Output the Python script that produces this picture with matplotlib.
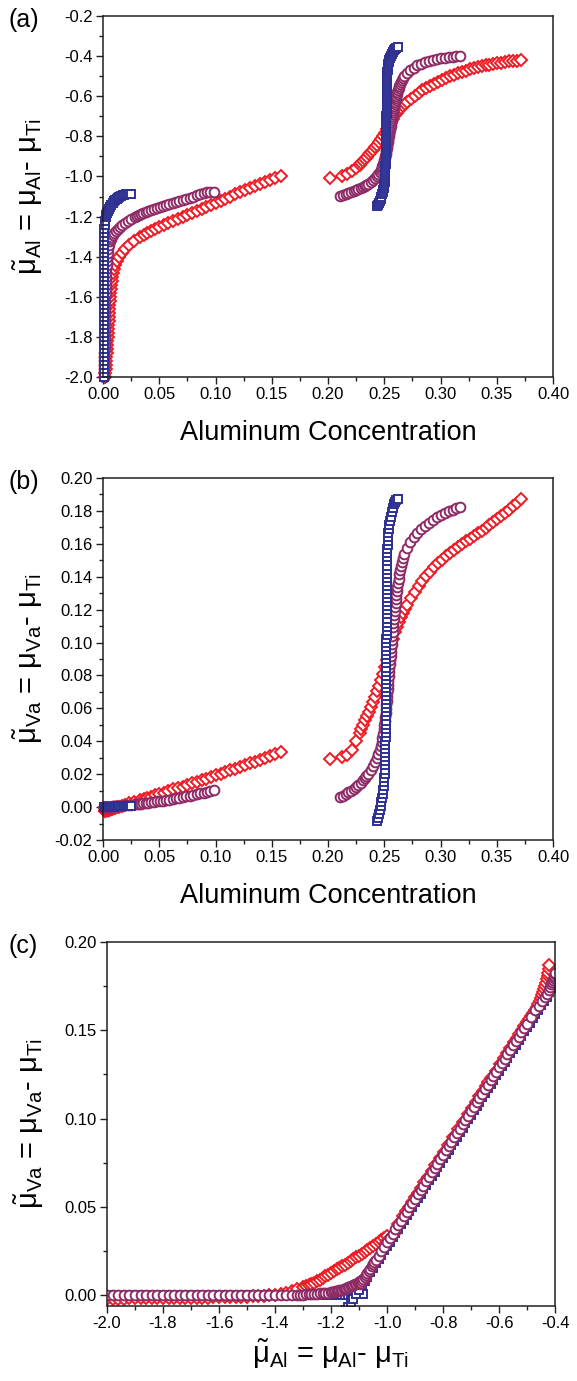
import matplotlib
matplotlib.use("Agg")
import matplotlib.pyplot as plt
from matplotlib.ticker import MultipleLocator, FormatStrFormatter

plt.rcParams['font.family'] = ['Liberation Sans', 'DejaVu Sans']
plt.rcParams['mathtext.fontset'] = 'custom'
plt.rcParams['mathtext.rm'] = 'Liberation Sans'
plt.rcParams['mathtext.it'] = 'Liberation Sans'
plt.rcParams['mathtext.bf'] = 'Liberation Sans:bold'
plt.rcParams['axes.unicode_minus'] = False

# ---- red diamonds, dilute branch ----
red_lo_x = [0.0015, 0.0019, 0.0023, 0.0026, 0.0029, 0.0031, 0.0033, 0.0035, 0.0037, 0.0039,
            0.0041, 0.0043, 0.0045, 0.0047, 0.0049, 0.0051, 0.0053, 0.0055, 0.0057, 0.0060,
            0.0063, 0.0066, 0.0069, 0.0073, 0.0077, 0.0082, 0.0088, 0.0096, 0.0107, 0.0122,
            0.0141, 0.0165, 0.0195, 0.0232, 0.0277,
            0.0330, 0.0360, 0.0392, 0.0426, 0.0462, 0.0500, 0.0540, 0.0580, 0.0625, 0.0667,
            0.0709, 0.0751, 0.0793, 0.0835, 0.0877, 0.0919, 0.0961, 0.1003, 0.1045, 0.1088,
            0.1131, 0.1174, 0.1217, 0.1260, 0.1303, 0.1348, 0.1393, 0.1439, 0.1485, 0.1532,
            0.1580]
red_lo_mual = [-2.00, -1.98, -1.96, -1.94, -1.92, -1.90, -1.88, -1.86, -1.84, -1.82,
               -1.80, -1.78, -1.76, -1.74, -1.72, -1.70, -1.68, -1.66, -1.64, -1.62,
               -1.60, -1.58, -1.56, -1.54, -1.52, -1.50, -1.48, -1.46, -1.44, -1.42,
               -1.40, -1.38, -1.36, -1.34, -1.32,
               -1.30, -1.29, -1.28, -1.27, -1.26, -1.25, -1.24, -1.23, -1.22, -1.21,
               -1.20, -1.19, -1.18, -1.17, -1.16, -1.15, -1.14, -1.13, -1.12, -1.11,
               -1.10, -1.09, -1.08, -1.07, -1.06, -1.05, -1.04, -1.03, -1.02, -1.01,
               -1.00]
red_lo_muva = [-0.0022, -0.0021, -0.0020, -0.0020, -0.0019, -0.0019, -0.0018, -0.0018, -0.0018, -0.0017,
               -0.0017, -0.0016, -0.0016, -0.0016, -0.0015, -0.0015, -0.0014, -0.0014, -0.0014, -0.0013,
               -0.0012, -0.0012, -0.0011, -0.0010, -0.0010, -0.0009, -0.0007, -0.0006, -0.0004, -0.0001,
               0.0003, 0.0008, 0.0014, 0.0022, 0.0032,
               0.0043, 0.0049, 0.0056, 0.0063, 0.0071, 0.0079, 0.0088, 0.0097, 0.0107, 0.0116,
               0.0125, 0.0135, 0.0145, 0.0154, 0.0164, 0.0173, 0.0183, 0.0193, 0.0202, 0.0213,
               0.0223, 0.0233, 0.0244, 0.0254, 0.0265, 0.0276, 0.0287, 0.0298, 0.0310, 0.0321,
               0.0333]

# ---- red diamonds, ordered branch ----
red_hi_x = [0.2016, 0.2126, 0.2170, 0.2210, 0.2245,
            0.22800, 0.22975, 0.23150, 0.23325, 0.23500, 0.23675, 0.23850, 0.24025, 0.24200, 0.24375,
            0.24550, 0.24725, 0.24900, 0.25075, 0.25250, 0.25425, 0.25600, 0.25775, 0.25950, 0.26125,
            0.26300, 0.26475, 0.26650, 0.26825, 0.27000,
            0.2735, 0.2770, 0.2805, 0.2840, 0.2875, 0.2910, 0.2945, 0.2980, 0.3015, 0.3050,
            0.3085, 0.3120, 0.3155, 0.3190, 0.3225, 0.3260, 0.3295, 0.3330, 0.3365, 0.3400,
            0.3435, 0.3470, 0.3505, 0.3540, 0.3575, 0.3610, 0.3645, 0.3680, 0.3715]
red_hi_mual = [-1.008, -1.000, -0.988, -0.975, -0.960,
               -0.943, -0.933, -0.922, -0.912, -0.901, -0.890, -0.879, -0.867, -0.854, -0.841,
               -0.827, -0.812, -0.797, -0.781, -0.764, -0.746, -0.728, -0.712, -0.696, -0.683,
               -0.670, -0.658, -0.648, -0.638, -0.629,
               -0.612, -0.597, -0.583, -0.571, -0.559, -0.547, -0.537, -0.527, -0.518, -0.509,
               -0.501, -0.493, -0.486, -0.479, -0.473, -0.466, -0.460, -0.454, -0.449, -0.446,
               -0.442, -0.439, -0.435, -0.432, -0.429, -0.426, -0.424, -0.422, -0.420]
red_hi_muva = [0.0290, 0.0305, 0.0318, 0.0345, 0.0400,
               0.0450, 0.0475, 0.0500, 0.0527, 0.0553, 0.0580, 0.0608, 0.0638, 0.0669, 0.0703,
               0.0738, 0.0774, 0.0811, 0.0852, 0.0893, 0.0938, 0.0982, 0.1024, 0.1062, 0.1094,
               0.1127, 0.1155, 0.1182, 0.1206, 0.1229,
               0.1272, 0.1309, 0.1342, 0.1373, 0.1402, 0.1431, 0.1457, 0.1481, 0.1504, 0.1526,
               0.1546, 0.1565, 0.1583, 0.1600, 0.1616, 0.1632, 0.1648, 0.1663, 0.1680, 0.1698,
               0.1716, 0.1734, 0.1752, 0.1770, 0.1788, 0.1807, 0.1827, 0.1848, 0.1872]

# ---- purple circles, dilute branch ----
pur_lo_x = [0.0010, 0.0011, 0.0011, 0.0012, 0.0012, 0.0013, 0.0013, 0.0014, 0.0014, 0.0015,
            0.0016, 0.0016, 0.0017, 0.0017, 0.0018, 0.0019, 0.0019, 0.0020, 0.0021, 0.0021,
            0.0022, 0.0023, 0.0024, 0.0025, 0.0026, 0.0027, 0.0028, 0.0030, 0.0032, 0.0034,
            0.0037, 0.0041, 0.0046, 0.0052, 0.0061,
            0.0067, 0.0075, 0.0085, 0.0097, 0.0112, 0.0129, 0.0148, 0.0169, 0.0192, 0.0218,
            0.0247, 0.0280,
            0.0298, 0.0317, 0.0337, 0.0358, 0.0380, 0.0403, 0.0427, 0.0452, 0.0478, 0.0505,
            0.0532, 0.0560, 0.0589, 0.0618, 0.0648, 0.0678, 0.0708, 0.0739, 0.0770, 0.0801,
            0.0832, 0.0863, 0.0894, 0.0925, 0.0952, 0.0983]
pur_lo_mual = [-2.00, -1.98, -1.96, -1.94, -1.92, -1.90, -1.88, -1.86, -1.84, -1.82,
               -1.80, -1.78, -1.76, -1.74, -1.72, -1.70, -1.68, -1.66, -1.64, -1.62,
               -1.60, -1.58, -1.56, -1.54, -1.52, -1.50, -1.48, -1.46, -1.44, -1.42,
               -1.40, -1.38, -1.36, -1.34, -1.32,
               -1.31, -1.30, -1.29, -1.28, -1.27, -1.26, -1.25, -1.24, -1.23, -1.22,
               -1.21, -1.20,
               -1.195, -1.190, -1.185, -1.180, -1.175, -1.170, -1.165, -1.160, -1.155, -1.150,
               -1.145, -1.140, -1.135, -1.130, -1.125, -1.120, -1.115, -1.110, -1.105, -1.100,
               -1.095, -1.090, -1.085, -1.080, -1.078, -1.076]
pur_lo_muva = [0.0000, 0.0000, 0.0000, 0.0000, 0.0000, 0.0001, 0.0001, 0.0001, 0.0001, 0.0001,
               0.0001, 0.0001, 0.0001, 0.0001, 0.0001, 0.0001, 0.0001, 0.0001, 0.0001, 0.0001,
               0.0001, 0.0001, 0.0001, 0.0001, 0.0001, 0.0001, 0.0001, 0.0001, 0.0001, 0.0001,
               0.0002, 0.0002, 0.0002, 0.0002, 0.0003,
               0.0003, 0.0003, 0.0004, 0.0005, 0.0005, 0.0006, 0.0007, 0.0009, 0.0010, 0.0012,
               0.0014, 0.0016,
               0.0018, 0.0019, 0.0021, 0.0023, 0.0025, 0.0027, 0.0029, 0.0031, 0.0034, 0.0037,
               0.0040, 0.0043, 0.0046, 0.0050, 0.0053, 0.0057, 0.0061, 0.0065, 0.0069, 0.0074,
               0.0078, 0.0083, 0.0088, 0.0093, 0.0097, 0.0102]

# ---- purple circles, ordered branch ----
pur_hi_x = [0.2111, 0.2135, 0.2160, 0.2182, 0.2203, 0.2227, 0.2250, 0.2271, 0.2290, 0.2308,
            0.2325, 0.2341, 0.2355, 0.2382, 0.2404, 0.2421, 0.2435, 0.2447, 0.2458, 0.2467,
            0.2476, 0.2483, 0.2489, 0.2495, 0.2500, 0.2504, 0.2508, 0.2512, 0.2515, 0.2518,
            0.2521, 0.2524, 0.2527, 0.2530, 0.2533, 0.2537, 0.2540, 0.2543, 0.2546, 0.2550,
            0.2553, 0.2556, 0.2559, 0.2562, 0.2565, 0.2568, 0.2571, 0.2575, 0.2578, 0.2581,
            0.2585, 0.2588, 0.2592, 0.2596, 0.2600, 0.2604, 0.2608, 0.2612, 0.2617, 0.2622,
            0.2628, 0.2634, 0.2640, 0.2647, 0.2655, 0.2664,
            0.2675, 0.2700, 0.2730, 0.2760, 0.2795, 0.2830, 0.2865, 0.2900, 0.2935, 0.2970,
            0.3005, 0.3040, 0.3075, 0.3110, 0.3140, 0.3170]
pur_hi_mual = [-1.096, -1.092, -1.088, -1.084, -1.080, -1.075, -1.070, -1.065, -1.060, -1.055,
               -1.050, -1.045, -1.040, -1.030, -1.020, -1.010, -1.000, -0.990, -0.980, -0.970,
               -0.960, -0.950, -0.940, -0.930, -0.920, -0.910, -0.900, -0.890, -0.880, -0.870,
               -0.860, -0.850, -0.840, -0.830, -0.820, -0.810, -0.800, -0.790, -0.780, -0.770,
               -0.760, -0.750, -0.740, -0.730, -0.720, -0.710, -0.700, -0.690, -0.680, -0.670,
               -0.660, -0.650, -0.640, -0.630, -0.620, -0.610, -0.600, -0.590, -0.580, -0.570,
               -0.560, -0.550, -0.540, -0.530, -0.520, -0.510,
               -0.500, -0.484, -0.470, -0.457, -0.446, -0.437, -0.429, -0.423, -0.418, -0.414,
               -0.411, -0.408, -0.405, -0.403, -0.401, -0.399]
pur_hi_muva = [0.0060, 0.0070, 0.0080, 0.0090, 0.0100, 0.0112, 0.0124, 0.0137, 0.0149, 0.0162,
               0.0174, 0.0186, 0.0199, 0.0224, 0.0248, 0.0273, 0.0298, 0.0323, 0.0348, 0.0372,
               0.0397, 0.0422, 0.0447, 0.0472, 0.0496, 0.0521, 0.0546, 0.0571, 0.0596, 0.0620,
               0.0645, 0.0670, 0.0695, 0.0720, 0.0744, 0.0769, 0.0794, 0.0819, 0.0844, 0.0868,
               0.0893, 0.0918, 0.0943, 0.0968, 0.0992, 0.1017, 0.1042, 0.1067, 0.1092, 0.1116,
               0.1141, 0.1166, 0.1191, 0.1216, 0.1240, 0.1265, 0.1290, 0.1315, 0.1340, 0.1364,
               0.1389, 0.1414, 0.1439, 0.1464, 0.1488, 0.1513,
               0.1537, 0.1577, 0.1612, 0.1640, 0.1665, 0.1688, 0.1708, 0.1728, 0.1745, 0.1760,
               0.1773, 0.1786, 0.1797, 0.1807, 0.1816, 0.1824]

# ---- blue squares, dilute branch ----
blu_lo_x = [0.0006, 0.0006, 0.0006, 0.0006, 0.0006, 0.0006, 0.0006, 0.0006, 0.0006, 0.0006,
            0.0006, 0.0006, 0.0006, 0.0006, 0.0006, 0.0006, 0.0006, 0.0006, 0.0006, 0.0006,
            0.0007, 0.0007, 0.0007, 0.0007, 0.0007, 0.0007, 0.0007, 0.0007, 0.0007, 0.0007,
            0.0008, 0.0008, 0.0008, 0.0008, 0.0008, 0.0008, 0.0009, 0.0011,
            0.0014, 0.0019, 0.0026, 0.0031, 0.0037, 0.0044, 0.0052, 0.0061, 0.0072, 0.0085,
            0.0100, 0.0110, 0.0121, 0.0133, 0.0146, 0.0160, 0.0175, 0.0190, 0.0205, 0.0220,
            0.0235, 0.0247]
blu_lo_mual = [-2.00, -1.98, -1.96, -1.94, -1.92, -1.90, -1.88, -1.86, -1.84, -1.82,
               -1.80, -1.78, -1.76, -1.74, -1.72, -1.70, -1.68, -1.66, -1.64, -1.62,
               -1.60, -1.58, -1.56, -1.54, -1.52, -1.50, -1.48, -1.46, -1.44, -1.42,
               -1.40, -1.38, -1.36, -1.34, -1.32, -1.30, -1.28, -1.26,
               -1.24, -1.22, -1.20, -1.19, -1.18, -1.17, -1.16, -1.15, -1.14, -1.13,
               -1.12, -1.115, -1.11, -1.105, -1.10, -1.097, -1.094, -1.092, -1.090, -1.089,
               -1.088, -1.0875]
blu_lo_muva = [0.0000, 0.0000, 0.0000, 0.0000, 0.0000, 0.0000, 0.0000, 0.0000, 0.0000, 0.0000,
               0.0000, 0.0000, 0.0000, 0.0000, 0.0000, 0.0000, 0.0000, 0.0000, 0.0000, 0.0000,
               0.0000, 0.0000, 0.0000, 0.0000, 0.0000, 0.0000, 0.0000, 0.0000, 0.0000, 0.0000,
               0.0000, 0.0000, 0.0000, 0.0000, 0.0000, 0.0000, 0.0000, 0.0001,
               0.0001, 0.0001, 0.0001, 0.0001, 0.0002, 0.0002, 0.0002, 0.0002, 0.0003, 0.0003,
               0.0003, 0.0004, 0.0004, 0.0004, 0.0005, 0.0005, 0.0006, 0.0006, 0.0007, 0.0007,
               0.0008, 0.0008]

# ---- blue squares, ordered branch ----
blu_hi_x = [0.2435, 0.2440, 0.2450, 0.2459, 0.2467, 0.2474, 0.2480, 0.2486, 0.2491, 0.2495,
            0.2499, 0.2502, 0.2504, 0.2506, 0.2508, 0.2509, 0.2510, 0.2510, 0.2511, 0.2511,
            0.2511, 0.2512, 0.2512, 0.2512, 0.2512, 0.2513, 0.2513, 0.2513, 0.2514, 0.2514,
            0.2514, 0.2515, 0.2515, 0.2515, 0.2516, 0.2516, 0.2516, 0.2517, 0.2517, 0.2517,
            0.2518, 0.2518, 0.2518, 0.2519, 0.2519, 0.2519, 0.2520, 0.2520, 0.2520, 0.2521,
            0.2521, 0.2521, 0.2522, 0.2522, 0.2522, 0.2523, 0.2523, 0.2523, 0.2524, 0.2524,
            0.2524, 0.2525, 0.2525, 0.2525, 0.2526, 0.2526, 0.2527, 0.2528, 0.2529, 0.2531,
            0.2533, 0.2536, 0.2540, 0.2545, 0.2551, 0.2558, 0.2566, 0.2576, 0.2589, 0.2598,
            0.2608, 0.2618]
blu_hi_mual = [-1.145, -1.14, -1.13, -1.12, -1.11, -1.10, -1.09, -1.08, -1.07, -1.06,
               -1.05, -1.04, -1.03, -1.02, -1.01, -1.00, -0.99, -0.98, -0.97, -0.96,
               -0.95, -0.94, -0.93, -0.92, -0.91, -0.90, -0.89, -0.88, -0.87, -0.86,
               -0.85, -0.84, -0.83, -0.82, -0.81, -0.80, -0.79, -0.78, -0.77, -0.76,
               -0.75, -0.74, -0.73, -0.72, -0.71, -0.70, -0.69, -0.68, -0.67, -0.66,
               -0.65, -0.64, -0.63, -0.62, -0.61, -0.60, -0.59, -0.58, -0.57, -0.56,
               -0.55, -0.54, -0.53, -0.52, -0.51, -0.50, -0.49, -0.48, -0.47, -0.46,
               -0.45, -0.44, -0.43, -0.42, -0.41, -0.40, -0.39, -0.38, -0.37, -0.365,
               -0.36, -0.357]
blu_hi_muva = [-0.0082, -0.0069, -0.0045, -0.0020, 0.0005, 0.0030, 0.0055, 0.0079, 0.0104, 0.0129,
               0.0154, 0.0179, 0.0203, 0.0228, 0.0253, 0.0278, 0.0303, 0.0327, 0.0352, 0.0377,
               0.0402, 0.0427, 0.0451, 0.0476, 0.0501, 0.0526, 0.0551, 0.0575, 0.0600, 0.0625,
               0.0650, 0.0675, 0.0699, 0.0724, 0.0749, 0.0774, 0.0799, 0.0823, 0.0848, 0.0873,
               0.0898, 0.0923, 0.0947, 0.0972, 0.0997, 0.1022, 0.1047, 0.1071, 0.1096, 0.1121,
               0.1146, 0.1171, 0.1195, 0.1220, 0.1245, 0.1270, 0.1295, 0.1319, 0.1344, 0.1369,
               0.1394, 0.1419, 0.1443, 0.1468, 0.1493, 0.1518, 0.1543, 0.1567, 0.1592, 0.1617,
               0.1642, 0.1667, 0.1691, 0.1716, 0.1741, 0.1766, 0.1791, 0.1815, 0.1840, 0.1852,
               0.1865, 0.1872]

RED = '#ED1C24'
PURPLE = '#8E2A66'
BLUE = '#2E3192'
SPINE = '#231F20'

series = {
    'red': dict(marker='D', ms=5.8, color=RED,
                branches=[(red_lo_x, red_lo_mual, red_lo_muva),
                          (red_hi_x, red_hi_mual, red_hi_muva)]),
    'purple': dict(marker='o', ms=7.0, color=PURPLE,
                   branches=[(pur_lo_x, pur_lo_mual, pur_lo_muva),
                             (pur_hi_x, pur_hi_mual, pur_hi_muva)]),
    'blue': dict(marker='s', ms=6.4, color=BLUE,
                 branches=[(blu_lo_x, blu_lo_mual, blu_lo_muva),
                           (blu_hi_x, blu_hi_mual, blu_hi_muva)]),
}


def draw_series(ax, ix, iy, order, clip):
    for name in order:
        s = series[name]
        for br in s['branches']:
            ax.plot(br[ix], br[iy], ls='none', marker=s['marker'], ms=s['ms'],
                    mfc='white', mec=s['color'], mew=1.4, clip_on=clip)


def style_axes(ax, xmaj, xmin, xfmt, ymaj, ymin, yfmt):
    for sp in ax.spines.values():
        sp.set_linewidth(1.1)
        sp.set_color(SPINE)
    ax.xaxis.set_major_locator(MultipleLocator(xmaj))
    ax.xaxis.set_minor_locator(MultipleLocator(xmin))
    ax.yaxis.set_major_locator(MultipleLocator(ymaj))
    ax.yaxis.set_minor_locator(MultipleLocator(ymin))
    ax.xaxis.set_major_formatter(FormatStrFormatter(xfmt))
    ax.yaxis.set_major_formatter(FormatStrFormatter(yfmt))
    ax.tick_params(which='both', direction='out', top=False, right=False,
                   color=SPINE, width=1.0)
    ax.tick_params(which='major', length=5, labelsize=12, pad=2.5)
    ax.tick_params(which='minor', length=3)


mu_al_label = r'$\tilde{\mu}_{\mathrm{Al}}$ = $\mu_{\mathrm{Al}}$- $\mu_{\mathrm{Ti}}$'
mu_va_label = r'$\tilde{\mu}_{\mathrm{Va}}$ = $\mu_{\mathrm{Va}}$- $\mu_{\mathrm{Ti}}$'

fig = plt.figure(figsize=(5.77, 13.81), dpi=100)
W, H = 577.0, 1381.0

# (a) exchange potential of Al vs composition
ax_a = fig.add_axes([103 / W, 1 - 377 / H, 450 / W, 361 / H])
draw_series(ax_a, 0, 1, ['red', 'purple', 'blue'], False)
ax_a.set_xlim(0.0, 0.4)
ax_a.set_ylim(-2.0, -0.2)
style_axes(ax_a, 0.05, 0.025, '%.2f', 0.2, 0.1, '%.1f')
ax_a.set_xlabel('Aluminum Concentration', fontsize=19.5, labelpad=13)
ax_a.set_ylabel(mu_al_label, fontsize=21)
ax_a.yaxis.set_label_coords(-0.128, 0.5)
fig.text(8 / W, 1 - 20 / H, '(a)', fontsize=18, va='center')

# (b) exchange potential of vacancies vs composition
ax_b = fig.add_axes([103 / W, 1 - 840 / H, 450 / W, 362 / H])
draw_series(ax_b, 0, 2, ['red', 'purple', 'blue'], False)
ax_b.set_xlim(0.0, 0.4)
ax_b.set_ylim(-0.02, 0.20)
style_axes(ax_b, 0.05, 0.025, '%.2f', 0.02, 0.01, '%.2f')
ax_b.set_xlabel('Aluminum Concentration', fontsize=19.5, labelpad=13)
ax_b.set_ylabel(mu_va_label, fontsize=21)
ax_b.yaxis.set_label_coords(-0.128, 0.5)
fig.text(8 / W, 1 - 482 / H, '(b)', fontsize=18, va='center')

# (c) vacancy potential vs Al potential
ax_c = fig.add_axes([107 / W, 1 - 1306 / H, 448 / W, 364 / H])
draw_series(ax_c, 1, 2, ['blue', 'red', 'purple'], True)
ax_c.set_xlim(-2.0, -0.4)
ax_c.set_ylim(-0.0062, 0.20)
style_axes(ax_c, 0.2, 0.1, '%.1f', 0.05, 0.025, '%.2f')
ax_c.set_xlabel(mu_al_label, fontsize=21, labelpad=4)
ax_c.set_ylabel(mu_va_label, fontsize=21)
ax_c.yaxis.set_label_coords(-0.137, 0.5)
fig.text(8 / W, 1 - 946 / H, '(c)', fontsize=18, va='center')

fig.savefig('out.png', dpi=100)
